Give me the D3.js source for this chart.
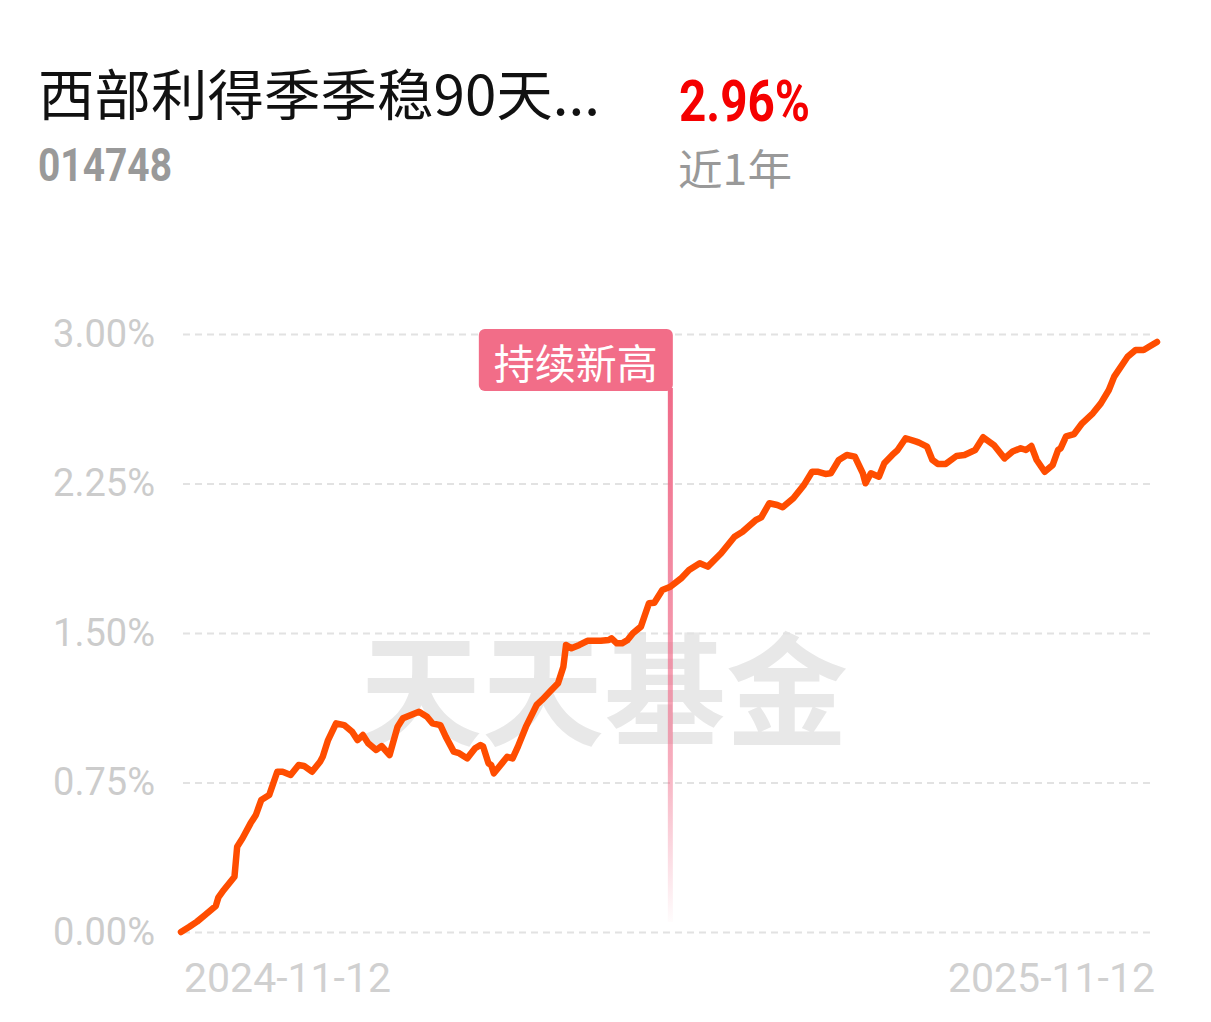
<!DOCTYPE html>
<html>
<head>
<meta charset="utf-8">
<script src="https://cdn.jsdelivr.net/npm/d3@7"></script>
<style>
  html, body { margin: 0; padding: 0; background: #fff; }
  #chart { width: 1211px; height: 1022px; }
</style>
</head>
<body>
<div id="chart"></div>
<script>
// ─── DATA ───
const fundName = "西部利得季季稳90天...";
const fundCode = "014748";
const periodReturn = "2.96%";
const periodLabel = "近1年";
const markerLabel = "持续新高";
const markerDate = "2025-05-14";
const watermark = "天天基金";

const yTicks = [0, 0.75, 1.5, 2.25, 3.0];
const xTickLabels = ["2024-11-12", "2025-11-12"];

const dates = [
  "2024-11-12","2024-11-15","2024-11-18","2024-11-21","2024-11-25","2024-11-26","2024-11-28",
  "2024-12-02","2024-12-03","2024-12-05","2024-12-08","2024-12-10","2024-12-12","2024-12-15",
  "2024-12-18","2024-12-20","2024-12-23","2024-12-26","2024-12-28","2024-12-31",
  "2025-01-03","2025-01-04","2025-01-06","2025-01-09","2025-01-12","2025-01-15","2025-01-17",
  "2025-01-19","2025-01-21","2025-01-24","2025-01-26","2025-01-29",
  "2025-02-01","2025-02-03","2025-02-06","2025-02-09","2025-02-12","2025-02-14","2025-02-17",
  "2025-02-19","2025-02-22","2025-02-24","2025-02-27",
  "2025-03-02","2025-03-04","2025-03-05","2025-03-07","2025-03-08","2025-03-09","2025-03-12",
  "2025-03-14","2025-03-16","2025-03-18","2025-03-21","2025-03-25","2025-03-27","2025-03-30",
  "2025-04-02","2025-04-04","2025-04-05","2025-04-07","2025-04-10","2025-04-13","2025-04-18",
  "2025-04-21","2025-04-22","2025-04-24","2025-04-26","2025-04-28","2025-04-30",
  "2025-05-03","2025-05-06","2025-05-08","2025-05-11","2025-05-14","2025-05-18","2025-05-21",
  "2025-05-25","2025-05-28",
  "2025-06-02","2025-06-07","2025-06-10","2025-06-15","2025-06-17","2025-06-20","2025-06-23",
  "2025-06-25","2025-06-29",
  "2025-07-03","2025-07-06","2025-07-08","2025-07-11","2025-07-13","2025-07-16","2025-07-19",
  "2025-07-22","2025-07-25","2025-07-26","2025-07-28","2025-07-31",
  "2025-08-02","2025-08-05","2025-08-07","2025-08-10","2025-08-14","2025-08-15","2025-08-18",
  "2025-08-20","2025-08-22","2025-08-25","2025-08-29",
  "2025-09-01","2025-09-05","2025-09-08","2025-09-12","2025-09-16","2025-09-19","2025-09-22",
  "2025-09-24","2025-09-26","2025-09-28",
  "2025-10-01","2025-10-04","2025-10-06","2025-10-07","2025-10-09","2025-10-12","2025-10-15",
  "2025-10-19","2025-10-22","2025-10-25","2025-10-27",
  "2025-11-01","2025-11-04","2025-11-07","2025-11-09","2025-11-12"
];

// cumulative return, %
const returns = [
  0.000,0.025,0.052,0.085,0.130,0.174,0.211,
  0.277,0.428,0.470,0.545,0.587,0.662,0.687,
  0.804,0.804,0.788,0.838,0.833,0.804,
  0.854,0.879,0.963,1.047,1.038,1.005,0.963,
  0.988,0.947,0.913,0.933,0.888,
  1.030,1.072,1.089,1.105,1.080,1.047,1.038,
  0.980,0.905,0.897,0.871,
  0.922,0.938,0.930,0.846,0.838,0.796,0.846,
  0.879,0.871,0.930,1.030,1.139,1.164,1.206,
  1.248,1.331,1.440,1.423,1.440,1.461,1.461,
  1.465,1.473,1.448,1.448,1.465,1.499,
  1.532,1.649,1.652,1.716,1.732,1.774,1.816,
  1.850,1.833,
  1.900,1.983,2.008,2.067,2.080,2.151,2.142,
  2.131,2.176,
  2.243,2.309,2.309,2.298,2.301,2.368,2.393,
  2.385,2.301,2.251,2.301,2.284,
  2.351,2.393,2.418,2.477,2.460,2.455,2.435,
  2.368,2.348,2.348,2.388,
  2.393,2.418,2.482,2.443,2.376,2.410,2.427,
  2.418,2.438,2.368,
  2.309,2.343,2.418,2.427,2.486,2.498,2.552,
  2.602,2.652,2.719,2.786,
  2.886,2.920,2.920,2.936,2.960
];

// ─── CHART ───
const width = 1211, height = 1022;
const parse = d3.timeParse("%Y-%m-%d");
const data = dates.map((d, i) => ({ date: parse(d), value: returns[i] }));

const svg = d3.select("#chart").append("svg")
  .attr("width", width)
  .attr("height", height)
  .style("font-family", "Roboto, 'Noto Sans CJK SC', sans-serif");

// header
svg.append("text")
  .attr("x", 38).attr("y", 115)
  .attr("font-size", 55)
  .attr("fill", "#111")
  .attr("textLength", 562)
  .attr("lengthAdjust", "spacingAndGlyphs")
  .style("font-family", "'Noto Sans CJK SC', sans-serif")
  .text(fundName);

svg.append("text")
  .attr("x", 38).attr("y", 181)
  .attr("font-size", 46)
  .attr("font-weight", "bold")
  .attr("fill", "#999")
  .attr("textLength", 134)
  .attr("lengthAdjust", "spacingAndGlyphs")
  .style("font-family", "Roboto, sans-serif")
  .text(fundCode);

svg.append("text")
  .attr("x", 679).attr("y", 121)
  .attr("font-size", 58)
  .attr("font-weight", "bold")
  .attr("fill", "#f50000")
  .attr("textLength", 131)
  .attr("lengthAdjust", "spacingAndGlyphs")
  .style("font-family", "Roboto, sans-serif")
  .text(periodReturn);

svg.append("text")
  .attr("x", 678).attr("y", 185)
  .attr("font-size", 42)
  .attr("fill", "#999")
  .attr("textLength", 114)
  .attr("lengthAdjust", "spacingAndGlyphs")
  .style("font-family", "'Noto Sans CJK SC', sans-serif")
  .text(periodLabel);

// scales
const x = d3.scaleTime()
  .domain([parse(xTickLabels[0]), parse(xTickLabels[1])])
  .range([181, 1157]);

const y = d3.scaleLinear()
  .domain([0, 3])
  .range([932, 334]);

// watermark
svg.append("text")
  .attr("x", 360)
  .attr("y", 736)
  .attr("font-size", 122)
  .attr("font-weight", "bold")
  .attr("fill", "#e8e8e8")
  .attr("textLength", 488)
  .attr("lengthAdjust", "spacingAndGlyphs")
  .style("font-family", "'Noto Sans CJK SC', serif")
  .text(watermark);

// y grid + labels
svg.append("g")
  .attr("transform", "translate(183,0)")
  .call(d3.axisLeft(y).tickValues(yTicks).tickSize(-972).tickPadding(28)
    .tickFormat(d => d3.format(".2f")(d) + "%"))
  .call(g => g.select(".domain").remove())
  .call(g => g.selectAll(".tick line")
    .attr("stroke", "#e2e2e2")
    .attr("stroke-width", 2)
    .attr("stroke-dasharray", "7,5"))
  .call(g => g.selectAll(".tick text")
    .attr("fill", "#cccccc")
    .attr("font-size", 38)
    .style("font-family", "Roboto, sans-serif"));

// x labels (first / last date)
svg.append("text")
  .attr("x", x(parse(xTickLabels[0])) + 3)
  .attr("y", 992)
  .attr("font-size", 41)
  .attr("fill", "#d0d0d0")
  .style("font-family", "Roboto, sans-serif")
  .text(xTickLabels[0]);

svg.append("text")
  .attr("x", x(parse(xTickLabels[1])) - 2)
  .attr("y", 992)
  .attr("text-anchor", "end")
  .attr("font-size", 41)
  .attr("fill", "#d0d0d0")
  .style("font-family", "Roboto, sans-serif")
  .text(xTickLabels[1]);

// marker line (fading downward)
const mx = x(parse(markerDate));
const grad = svg.append("defs").append("linearGradient")
  .attr("id", "marker-fade")
  .attr("x1", 0).attr("y1", 0).attr("x2", 0).attr("y2", 1);
grad.append("stop").attr("offset", "0%").attr("stop-color", "#f06a88").attr("stop-opacity", 1);
grad.append("stop").attr("offset", "70%").attr("stop-color", "#f06a88").attr("stop-opacity", 0.55);
grad.append("stop").attr("offset", "100%").attr("stop-color", "#f06a88").attr("stop-opacity", 0.02);

svg.append("rect")
  .attr("x", mx - 2.5)
  .attr("y", 388)
  .attr("width", 5)
  .attr("height", y(0) - 10 - 388)
  .attr("fill", "url(#marker-fade)");

// line
const line = d3.line()
  .x(d => x(d.date))
  .y(d => y(d.value));

svg.append("path")
  .datum(data)
  .attr("fill", "none")
  .attr("stroke", "#ff4d00")
  .attr("stroke-width", 6.5)
  .attr("stroke-linejoin", "round")
  .attr("stroke-linecap", "round")
  .attr("d", line);

// marker label
const boxW = 194, boxH = 62;
svg.append("rect")
  .attr("x", mx + 2.5 - boxW)
  .attr("y", 329)
  .attr("width", boxW)
  .attr("height", boxH)
  .attr("rx", 6)
  .attr("fill", "#f26d88");

svg.append("text")
  .attr("x", mx + 2.5 - boxW / 2)
  .attr("y", 361)
  .attr("text-anchor", "middle")
  .attr("dominant-baseline", "central")
  .attr("font-size", 41)
  .attr("fill", "#fff")
  .style("font-family", "'Noto Sans CJK SC', sans-serif")
  .text(markerLabel);
</script>
</body>
</html>
